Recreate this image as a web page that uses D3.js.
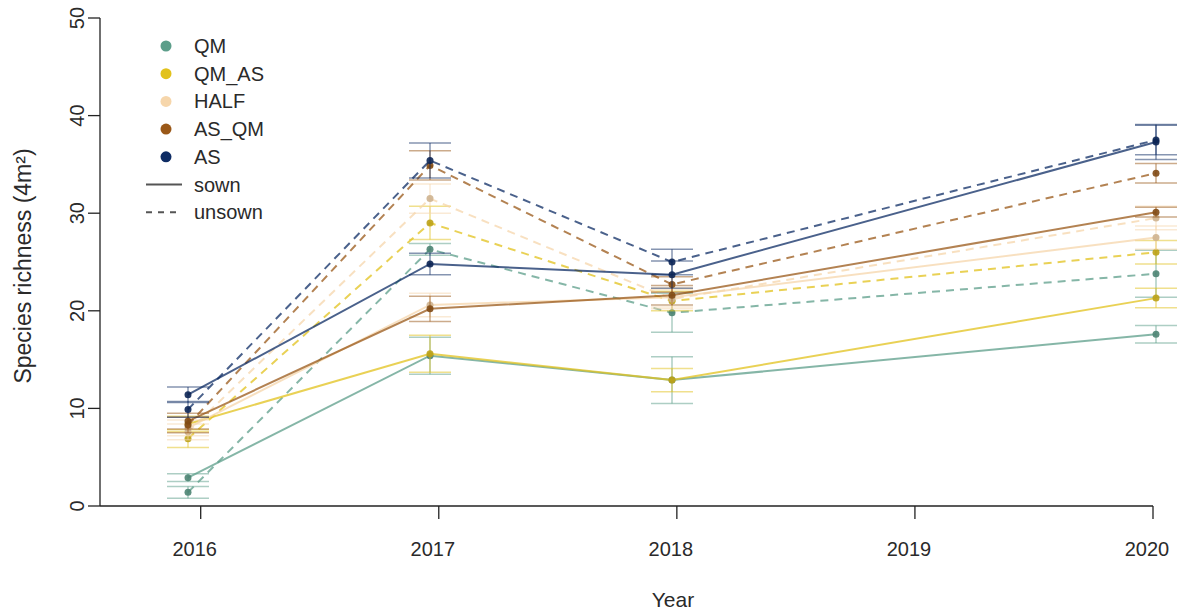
<!DOCTYPE html>
<html><head><meta charset="utf-8">
<script src="https://cdn.jsdelivr.net/npm/d3@7"></script>
<style>body{margin:0;background:#fff}svg{display:block;font-family:"Liberation Sans",Arial,sans-serif}</style>
</head><body><svg id="c" width="1178" height="616"></svg>
<script>
// ---- data ----
const years = [2016, 2017, 2018, 2020];
const axisYears = [2016, 2017, 2018, 2019, 2020];
const yTicks = [0, 10, 20, 30, 40, 50];
const groups = ["QM", "QM_AS", "HALF", "AS_QM", "AS"];
const colors = ["#5c9e8a", "#e2c21c", "#f6d6ab", "#9a5818", "#0e2c64"];

const qmSown       = [2.9, 15.4, 12.9, 17.6];
const qmSownSE     = [0.4, 1.9, 2.4, 0.9];
const qmUnsown     = [1.4, 26.3, 19.8, 23.8];
const qmUnsownSE   = [0.6, 0.6, 2.0, 2.4];
const qmasSown     = [8.4, 15.6, 12.9, 21.3];
const qmasSownSE   = [0.8, 1.9, 1.2, 1.0];
const qmasUnsown   = [6.9, 29.0, 21.0, 26.0];
const qmasUnsownSE = [0.9, 1.7, 1.0, 1.2];
const halfSown     = [8.0, 20.6, 21.4, 27.5];
const halfSownSE   = [0.8, 1.2, 1.0, 1.2];
const halfUnsown   = [7.6, 31.5, 21.2, 29.5];
const halfUnsownSE = [0.8, 1.5, 1.0, 1.2];
const asqmSown     = [8.7, 20.2, 21.6, 30.1];
const asqmSownSE   = [0.8, 1.3, 1.0, 0.5];
const asqmUnsown   = [8.3, 34.9, 22.7, 34.1];
const asqmUnsownSE = [0.8, 1.5, 0.8, 1.0];
const asSown       = [11.4, 24.8, 23.7, 37.3];
const asSownSE     = [0.8, 1.1, 1.4, 1.8];
const asUnsown     = [9.9, 35.4, 25.0, 37.5];
const asUnsownSE   = [0.8, 1.8, 1.3, 1.5];

const sownMeans = [qmSown, qmasSown, halfSown, asqmSown, asSown];
const sownSE = [qmSownSE, qmasSownSE, halfSownSE, asqmSownSE, asSownSE];
const unsownMeans = [qmUnsown, qmasUnsown, halfUnsown, asqmUnsown, asUnsown];
const unsownSE = [qmUnsownSE, qmasUnsownSE, halfUnsownSE, asqmUnsownSE, asUnsownSE];

// ---- scales ----
const svg = d3.select("#c");
const xAxisScale = d3.scaleLinear().domain([2016, 2020]).range([200.7, 1153]);
const x = d3.scaleLinear().domain([2016, 2020]).range([188, 1156]);
const y = d3.scaleLinear().domain([0, 50]).range([506, 18]);
const txt = "#2a2a2a";

// ---- axes ----
const ax = svg.append("g").attr("stroke", "#222").attr("stroke-width", 1.3);
ax.append("line").attr("x1", 100).attr("x2", 100).attr("y1", y(50)).attr("y2", y(0));
ax.append("line").attr("x1", 100).attr("x2", xAxisScale(2020)).attr("y1", y(0)).attr("y2", y(0));
ax.selectAll(".yt").data(yTicks).enter().append("line")
  .attr("x1", 88).attr("x2", 100).attr("y1", d => y(d)).attr("y2", d => y(d));
ax.selectAll(".xt").data(axisYears).enter().append("line")
  .attr("x1", d => xAxisScale(d)).attr("x2", d => xAxisScale(d)).attr("y1", y(0)).attr("y2", y(0) + 13);

svg.selectAll(".ytl").data(yTicks).enter().append("text")
  .attr("transform", d => `translate(84,${y(d)}) rotate(-90)`)
  .attr("text-anchor", "middle").attr("font-size", 20).attr("fill", txt).text(d => d);
svg.selectAll(".xtl").data(axisYears).enter().append("text")
  .attr("x", d => xAxisScale(d) - 6).attr("y", 556)
  .attr("text-anchor", "middle").attr("font-size", 20).attr("fill", txt).text(d => d);
svg.append("text").attr("x", 673).attr("y", 607).attr("text-anchor", "middle")
  .attr("font-size", 21).attr("fill", txt).text("Year");
svg.append("text").attr("transform", `translate(31,266) rotate(-90)`)
  .attr("text-anchor", "middle").attr("font-size", 23).attr("fill", txt)
  .text("Species richness (4m²)");

// ---- series ----
const line = d3.line().x((d, i) => x(years[i])).y(d => y(d));
const plot = svg.append("g");

function drawSeries(means, ses, gi, dashed) {
  const col = colors[gi];
  const g = plot.append("g");
  means.forEach((m, i) => {
    const cx = x(years[i]), lo = y(m - ses[i]), hi = y(m + ses[i]);
    g.append("line").attr("x1", cx).attr("x2", cx).attr("y1", lo).attr("y2", hi)
      .attr("stroke", col).attr("stroke-opacity", 0.5).attr("stroke-width", 1.5);
    [lo, hi].forEach(yy => g.append("line").attr("x1", cx - 21).attr("x2", cx + 21)
      .attr("y1", yy).attr("y2", yy).attr("stroke", col).attr("stroke-opacity", 0.5).attr("stroke-width", 1.5));
  });
  g.append("path").datum(means).attr("d", line).attr("fill", "none")
    .attr("stroke", col).attr("stroke-opacity", 0.75).attr("stroke-width", 2)
    .attr("stroke-dasharray", dashed ? "8,6" : null);
  means.forEach((m, i) => {
    g.append("circle").attr("cx", x(years[i])).attr("cy", y(m)).attr("r", 3.5)
      .attr("fill", d3.color(col).darker(0.5)).attr("fill-opacity", 0.9);
  });
}
groups.forEach((gname, gi) => {
  drawSeries(unsownMeans[gi], unsownSE[gi], gi, true);
  drawSeries(sownMeans[gi], sownSE[gi], gi, false);
});

// ---- legend ----
const lg = svg.append("g");
const ly = i => 46 + i * 27.7;
groups.forEach((gname, i) => {
  lg.append("circle").attr("cx", 166).attr("cy", ly(i)).attr("r", 5.5).attr("fill", colors[i]);
  lg.append("text").attr("x", 194).attr("y", ly(i) + 7).attr("font-size", 20).attr("fill", txt).text(gname);
});
[["sown", null], ["unsown", "6,6"]].forEach((d, j) => {
  const yy = ly(5 + j);
  lg.append("line").attr("x1", 146).attr("x2", 182).attr("y1", yy).attr("y2", yy)
    .attr("stroke", "#555").attr("stroke-width", 2).attr("stroke-dasharray", d[1]);
  lg.append("text").attr("x", 194).attr("y", yy + 7).attr("font-size", 20).attr("fill", txt).text(d[0]);
});
</script></body></html>
